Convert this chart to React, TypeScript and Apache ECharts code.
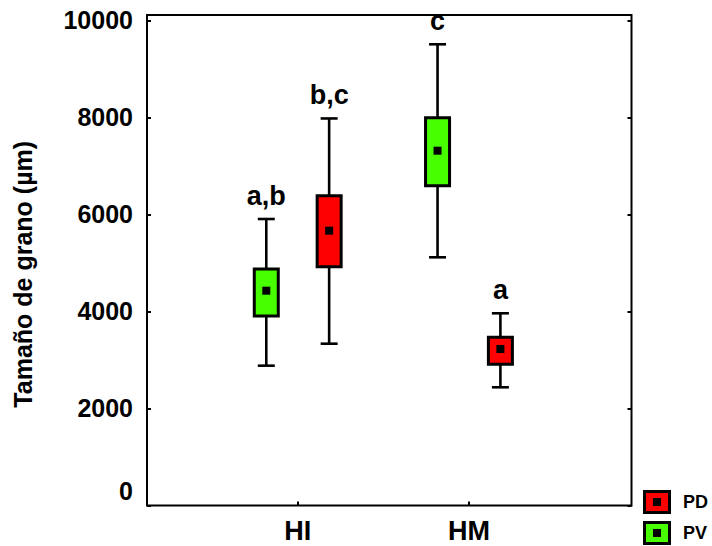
import React, { useEffect, useRef } from "react";
import * as echarts from "echarts";

// ---- data ----
const groups = ["HI", "HM"];
const legendNames = ["PD", "PV"];
const yTicks = [0, 2000, 4000, 6000, 8000, 10000];

// PV (green)
const pvMin = [2883, 5117];
const pvQ1 = [3907, 6594];
const pvMean = [4429, 7315];
const pvQ3 = [4876, 7996];
const pvMax = [5907, 9509];
const pvLetters = ["a,b", "c"];

// PD (red)
const pdMin = [3336, 2437];
const pdQ1 = [4924, 2911];
const pdMean = [5666, 3227];
const pdQ3 = [6388, 3468];
const pdMax = [7980, 3963];
const pdLetters = ["b,c", "a"];

const FONT = '"Liberation Sans", Arial, Helvetica, sans-serif';
const RED = "#ff0000";
const GREEN = "#48ff00";
const OFFSET = 0.1835;

function iconFor(color: string) {
  const svg =
    "<svg xmlns='http://www.w3.org/2000/svg' width='28' height='24'>" +
    "<rect x='1.5' y='1.5' width='25' height='21' fill='" + color + "' stroke='#000' stroke-width='3'/>" +
    "<rect x='10' y='8' width='8' height='8' fill='#000'/></svg>";
  return "image://data:image/svg+xml;utf8," + encodeURIComponent(svg);
}

function makeRender(offset: number, color: string, letters: string[]) {
  return (params: any, api: any) => {
    const x = api.value(0) + offset;
    const pMin = api.coord([x, api.value(1)]);
    const pQ1 = api.coord([x, api.value(2)]);
    const pMean = api.coord([x, api.value(3)]);
    const pQ3 = api.coord([x, api.value(4)]);
    const pMax = api.coord([x, api.value(5)]);
    const px = pMin[0];
    const halfW = 12;
    const capHalf = 8.5;
    const lw = 2.6;
    return {
      type: "group",
      children: [
        { type: "line", shape: { x1: px, y1: pMax[1], x2: px, y2: pMin[1] }, style: { stroke: "#000", lineWidth: lw } },
        { type: "line", shape: { x1: px - capHalf, y1: pMax[1], x2: px + capHalf, y2: pMax[1] }, style: { stroke: "#000", lineWidth: lw } },
        { type: "line", shape: { x1: px - capHalf, y1: pMin[1], x2: px + capHalf, y2: pMin[1] }, style: { stroke: "#000", lineWidth: lw } },
        {
          type: "rect",
          shape: { x: px - halfW, y: pQ3[1], width: halfW * 2, height: pQ1[1] - pQ3[1] },
          style: { fill: color, stroke: "#000", lineWidth: 3 },
        },
        { type: "rect", shape: { x: px - 4, y: pMean[1] - 4, width: 8, height: 8 }, style: { fill: "#000" } },
        {
          type: "text",
          x: px,
          y: pMax[1] - 23,
          style: {
            text: letters[params.dataIndex],
            fill: "#000",
            font: "bold 27px " + FONT,
            align: "center",
            verticalAlign: "middle",
          },
        },
      ],
    };
  };
}

export default function App() {
  const ref = useRef<HTMLDivElement>(null);
  useEffect(() => {
    if (!ref.current) return;
    const chart = echarts.init(ref.current, null, { renderer: "svg" });
    const pvData = groups.map((_, i) => [i + 1, pvMin[i], pvQ1[i], pvMean[i], pvQ3[i], pvMax[i]]);
    const pdData = groups.map((_, i) => [i + 1, pdMin[i], pdQ1[i], pdMean[i], pdQ3[i], pdMax[i]]);
    const option: any = {
      animation: false,
      backgroundColor: "#fff",
      textStyle: { fontFamily: FONT },
      grid: {
        left: 147,
        top: 15,
        width: 484.5,
        height: 490.5,
        show: true,
        borderColor: "#000",
        borderWidth: 2,
        backgroundColor: "transparent",
        containLabel: false,
        outerBoundsMode: "none",
      },
      legend: {
        orient: "vertical",
        left: 643,
        top: 490,
        padding: 0,
        itemWidth: 28,
        itemHeight: 24,
        itemGap: 7,
        selectedMode: false,
        data: [
          { name: legendNames[0], icon: iconFor(RED) },
          { name: legendNames[1], icon: iconFor(GREEN) },
        ],
        textStyle: { fontFamily: FONT, fontSize: 18, fontWeight: "bold", color: "#000", padding: [0, 0, 0, 7] },
      },
      xAxis: {
        type: "value",
        min: 0.12,
        max: 2.949,
        axisLine: { show: false },
        splitLine: { show: false },
        axisTick: { show: true, inside: true, length: 4, customValues: [1, 2], lineStyle: { color: "#000", width: 2 } },
        axisLabel: {
          customValues: [1, 2],
          formatter: (v: number) => groups[Math.round(v) - 1] ?? "",
          fontFamily: FONT,
          fontSize: 27,
          fontWeight: "bold",
          color: "#000",
          margin: 12,
        },
      },
      yAxis: [
        {
          type: "value",
          min: 0,
          max: 10113,
          interval: 2000,
          position: "left",
          name: "Tamaño de grano (µm)",
          nameLocation: "middle",
          nameGap: 112,
          nameTextStyle: { fontFamily: FONT, fontSize: 25, fontWeight: "bold", color: "#000", padding: [0, 28, 0, 0] },
          axisLine: { show: false },
          splitLine: { show: false },
          axisTick: { show: true, inside: true, length: 4, lineStyle: { color: "#000", width: 2 } },
          axisLabel: {
            customValues: yTicks,
            margin: 14,
            fontFamily: FONT,
            fontSize: 25,
            fontWeight: "bold",
            color: "#000",
            formatter: (v: number) => (v === 0 ? "{z|0}" : String(v)),
            rich: {
              z: { fontFamily: FONT, fontSize: 25, fontWeight: "bold", color: "#000", padding: [0, 0, 30, 0] },
            },
          },
        },
        {
          type: "value",
          min: 0,
          max: 10113,
          interval: 2000,
          position: "right",
          axisLine: { show: false },
          splitLine: { show: false },
          axisLabel: { show: false },
          axisTick: { show: true, inside: true, length: 4, lineStyle: { color: "#000", width: 2 } },
        },
      ],
      series: [
        {
          type: "custom",
          name: legendNames[1],
          color: GREEN,
          renderItem: makeRender(-OFFSET, GREEN, pvLetters),
          data: pvData,
          encode: { x: 0, y: [1, 2, 3, 4, 5] },
          clip: false,
        },
        {
          type: "custom",
          name: legendNames[0],
          color: RED,
          renderItem: makeRender(OFFSET, RED, pdLetters),
          data: pdData,
          encode: { x: 0, y: [1, 2, 3, 4, 5] },
          clip: false,
        },
      ],
    };
    chart.setOption(option);
    return () => chart.dispose();
  }, []);
  return <div ref={ref} style={{ position: "fixed", left: 0, top: 0, width: 712, height: 546 }} />;
}
